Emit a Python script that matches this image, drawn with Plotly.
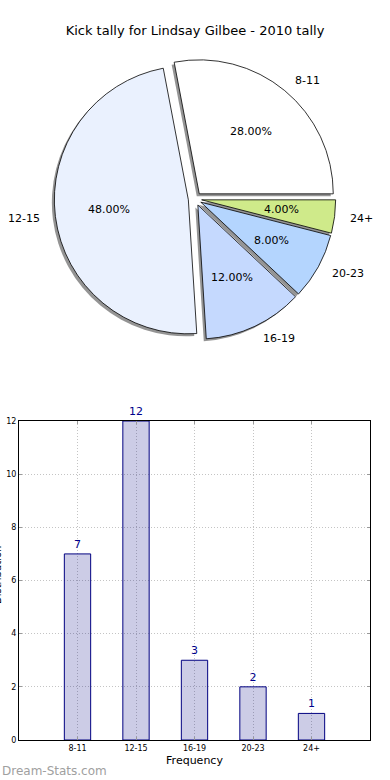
import math
import plotly.graph_objects as go

# ---------------- data ----------------
categories = ['8-11', '12-15', '16-19', '20-23', '24+']
counts = [7, 12, 3, 2, 1]
slice_colors = ['#ffffff', '#eaf1fe', '#c5d9fe', '#b4d5fe', '#cfea8a']
y_ticks = [0, 2, 4, 6, 8, 10, 12]
title_text = 'Kick tally for Lindsay Gilbee - 2010 tally'
x_title = 'Frequency'
y_title = 'Distribution'
watermark = 'Dream-Stats.com'

# ---------------- layout geometry (pixels) ----------------
W, H = 390, 780
cx, cy, R = 195, 199, 134
pull = 0.05
half = R * (1 + pull)
total = sum(counts)
# first slice starts at 3 o'clock and runs counter-clockwise
rot = 90 - 360.0 * counts[0] / total


def dom(dx=0.0, dy=0.0):
    return dict(x=[(cx - half + dx) / W, (cx + half + dx) / W],
                y=[(H - cy - half - dy) / H, (H - cy + half - dy) / H])


FONT = 'DejaVu Sans'
fig = go.Figure()

# shadow pie
fig.add_trace(go.Pie(
    labels=categories, values=counts, sort=False,
    direction='counterclockwise', rotation=rot,
    pull=[pull] * len(counts),
    marker=dict(colors=['rgba(0,0,0,0.42)'] * len(counts), line=dict(width=0)),
    textinfo='none', domain=dom(-2.5, 2.5), showlegend=False, hoverinfo='skip'))

# main pie
fig.add_trace(go.Pie(
    labels=categories, values=counts, sort=False,
    direction='counterclockwise', rotation=rot,
    pull=[pull] * len(counts),
    marker=dict(colors=slice_colors, line=dict(color='#000000', width=0.8)),
    textinfo='none', domain=dom(), showlegend=False, hoverinfo='label+value+percent'))

# labels (1.1 r) and percentages (0.6 r), placed like matplotlib's pie
annotations = []
cum = 0.0
for lab, v in zip(categories, counts):
    theta = 2 * math.pi * (cum + v / 2.0) / total
    cum += v
    c, s = math.cos(theta), math.sin(theta)
    ox, oy = cx + pull * R * c, cy - pull * R * s
    lx, ly = ox + 1.1 * R * c, oy - 1.1 * R * s
    px, py = ox + 0.6 * R * c, oy - 0.6 * R * s
    annotations.append(dict(
        text=lab, xref='paper', yref='paper', x=lx / W, y=(H - ly) / H,
        xanchor='left' if c > 0 else 'right', yanchor='middle', showarrow=False,
        font=dict(family=FONT, size=11, color='#000000')))
    annotations.append(dict(
        text='%.2f%%' % (100.0 * v / total), xref='paper', yref='paper',
        x=px / W, y=(H - py) / H, xanchor='center', yanchor='middle',
        showarrow=False, font=dict(family=FONT, size=11, color='#000000')))

# bar chart
fig.add_trace(go.Bar(
    x=categories, y=counts, width=0.45,
    marker=dict(color='rgba(0,0,128,0.2)', line=dict(color='#000080', width=1)),
    text=[str(c) for c in counts], textposition='outside',
    textfont=dict(family=FONT, size=11, color='#00008b'),
    cliponaxis=False, showlegend=False, xaxis='x', yaxis='y'))

axis_common = dict(
    showline=True, linecolor='#000000', linewidth=1, mirror='ticks',
    showgrid=True, gridcolor='#c4c4c4', griddash='1px,2px', gridwidth=1,
    ticks='inside', ticklen=3, tickcolor='#999999', zeroline=False,
    automargin=False,
    tickfont=dict(family=FONT, size=8, color='#000000'))

annotations += [
    dict(text=watermark, xref='paper', yref='paper', x=0, y=(H - 771) / H,
         xanchor='left', yanchor='middle', showarrow=False,
         font=dict(family=FONT, size=12, color='#a0a0a0')),
    dict(text=y_title, xref='paper', yref='paper', x=-3 / W, y=(H - 575) / H,
         xanchor='center', yanchor='middle', textangle=-90, showarrow=False,
         font=dict(family=FONT, size=10, color='#000000')),
]

fig.update_layout(
    width=W, height=H, margin=dict(l=0, r=0, t=0, b=0, autoexpand=False),
    paper_bgcolor='white', plot_bgcolor='white',
    font=dict(family=FONT, color='#000000'),
    title=dict(text=title_text, x=0.5, xanchor='center', y=1 - 30 / H,
               yanchor='middle', yref='container',
               font=dict(family=FONT, size=13, color='#000000')),
    xaxis=dict(domain=[19 / W, 370 / W], anchor='y', type='category',
               range=[-1, 5],
               title=dict(text=x_title, standoff=4,
                          font=dict(family=FONT, size=11)),
               **axis_common),
    yaxis=dict(domain=[40 / H, 359 / H], anchor='x', range=[0, 12],
               tickvals=y_ticks, **axis_common),
    annotations=annotations,
)

fig.write_html('out.html', config={'displayModeBar': False},
               post_script="document.body.style.margin='0';document.body.style.overflow='hidden';")
